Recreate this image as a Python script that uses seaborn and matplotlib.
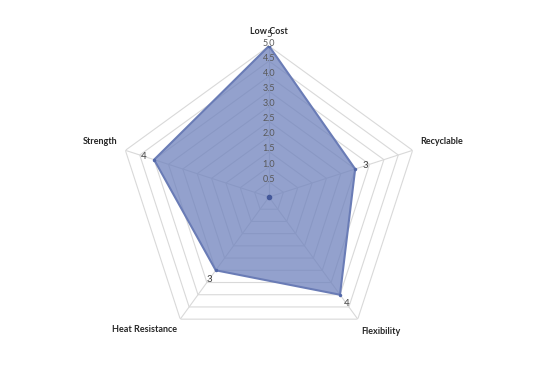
import matplotlib.pyplot as plt
import seaborn as sns
import numpy as np

sns.set_theme(style="white")
plt.rcParams['font.family'] = ['Lato', 'DejaVu Sans']

# Data
categories = ["Low Cost", "Recyclable", "Flexibility", "Heat Resistance", "Strength"]
values = [5, 3, 4, 3, 4]
ring_levels = [0.5, 1.0, 1.5, 2.0, 2.5, 3.0, 3.5, 4.0, 4.5, 5.0]

FILL = "#6f82bd"
EDGE = "#6a7cb6"
GRID = "#d9d9d9"

n = len(categories)
angles = np.linspace(0, 2 * np.pi, n, endpoint=False)
closed_angles = np.append(angles, angles[0])
closed_values = np.append(values, values[0])

fig = plt.figure(figsize=(5.38, 3.67), dpi=100)
ax = fig.add_axes([118 / 538, 19 / 367, 302 / 538, 302 / 367], projection="polar")
ax.set_theta_zero_location("N")
ax.set_theta_direction(-1)
ax.set_ylim(0, 5)
ax.grid(False)
ax.spines["polar"].set_visible(False)
ax.set_xticks([])
ax.set_yticks([])
ax.patch.set_alpha(0)

# Pentagon grid and spokes
for lvl in ring_levels:
    ax.plot(closed_angles, [lvl] * (n + 1), color=GRID, lw=0.8, zorder=1)
for a in angles:
    ax.plot([a, a], [0, 5], color=GRID, lw=0.8, zorder=1)

# Series
ax.fill(closed_angles, closed_values, color=FILL, alpha=0.75, zorder=2, lw=0)
ax.plot(closed_angles, closed_values, color=EDGE, lw=1.5, marker="o", ms=2.5,
        markerfacecolor="#5368a8", markeredgewidth=0, zorder=3)
ax.plot([0], [0], "o", color="#44589a", ms=3, zorder=3)

# Radial tick labels
for lvl in ring_levels:
    ax.annotate(f"{lvl:.1f}", xy=(0, lvl), xytext=(0, 2), textcoords="offset points",
                ha="center", va="center", fontsize=6.5, color="#595959", zorder=4)

# Data labels
for a, v in zip(angles, values):
    ax.annotate(str(v), xy=(a, v), xytext=(8 * np.sin(a), 8 * np.cos(a)),
                textcoords="offset points", ha="center", va="center",
                fontsize=7, color="#404040", zorder=4)

# Category labels
label_pos = [(269, 31), (442, 142), (381, 331), (145, 330), (100, 142)]
for name, (px, py) in zip(categories, label_pos):
    fig.text(px / 538, 1 - py / 367, name, ha="center", va="center",
             fontsize=6.5, fontweight="bold", color="#262626")

fig.savefig("out.png", dpi=100)
